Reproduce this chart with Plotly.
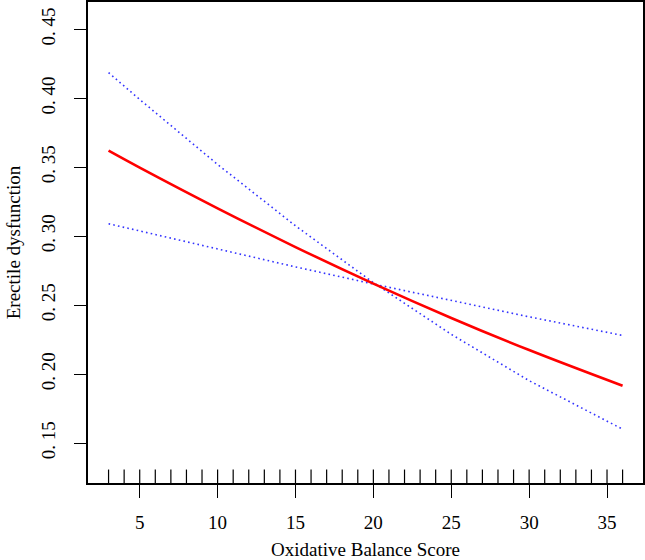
import plotly.graph_objects as go

# Oxidative Balance Score grid and estimated probabilities
obs = [3, 5, 10, 15, 20, 25, 30, 36]
fit = [0.362, 0.3497, 0.3202, 0.2921, 0.2656, 0.2407, 0.2174, 0.1915]
upper = [0.4186, 0.3991, 0.3520, 0.3075, 0.2663, 0.2288, 0.1952, 0.160]
lower = [0.309, 0.3037, 0.2905, 0.2777, 0.2653, 0.2532, 0.2415, 0.228]

# rug of observed score values
rug_x = list(range(3, 37))

x_ticks = [5, 10, 15, 20, 25, 30, 35]
y_ticks = [0.15, 0.20, 0.25, 0.30, 0.35, 0.40, 0.45]
y_ticktext = ["0. 15", "0. 20", "0. 25", "0. 30", "0. 35", "0. 40", "0. 45"]

FONT = "Liberation Serif, Times New Roman, serif"

fig = go.Figure()
fig.add_trace(go.Scatter(x=obs, y=upper, mode="lines", line=dict(color="#3333ff", width=1.6, dash="1.6px,3.2px"), hoverinfo="skip"))
fig.add_trace(go.Scatter(x=obs, y=lower, mode="lines", line=dict(color="#3333ff", width=1.6, dash="1.6px,3.2px"), hoverinfo="skip"))
fig.add_trace(go.Scatter(x=obs, y=fit, mode="lines", line=dict(color="#ff0000", width=2.6, shape="spline"), hoverinfo="skip"))

for xv in rug_x:
    fig.add_shape(type="line", xref="x", yref="paper", x0=xv, x1=xv, y0=0, y1=0.028,
                  line=dict(color="black", width=1.2))

fig.update_layout(
    width=645, height=560,
    margin=dict(l=88, r=2, t=2, b=77),
    paper_bgcolor="white", plot_bgcolor="white",
    showlegend=False,
    font=dict(family=FONT, size=19, color="black"),
)
fig.update_xaxes(
    range=[1.68, 37.31], tickvals=x_ticks, ticks="outside", ticklen=13, tickwidth=1.2,
    tickcolor="black", showline=True, linecolor="black", linewidth=1.5, mirror=True,
    showgrid=False, zeroline=False, ticklabelstandoff=8, automargin=False,
    title=dict(text="Oxidative Balance Score", standoff=12, font=dict(size=19)),
    tickfont=dict(size=19),
)
fig.update_yaxes(
    range=[0.121, 0.4698], tickvals=y_ticks, ticktext=y_ticktext, tickangle=-90,
    ticks="outside", ticklen=12, tickwidth=1.2, tickcolor="black",
    showline=True, linecolor="black", linewidth=1.5, mirror=True,
    showgrid=False, zeroline=False, ticklabelstandoff=12, automargin=False,
    title=dict(text="Erectile dysfunction", standoff=12, font=dict(size=19)),
    tickfont=dict(size=19),
)

fig.write_html("out.html", config={"displayModeBar": False},
               post_script="document.body.style.margin='0';")
